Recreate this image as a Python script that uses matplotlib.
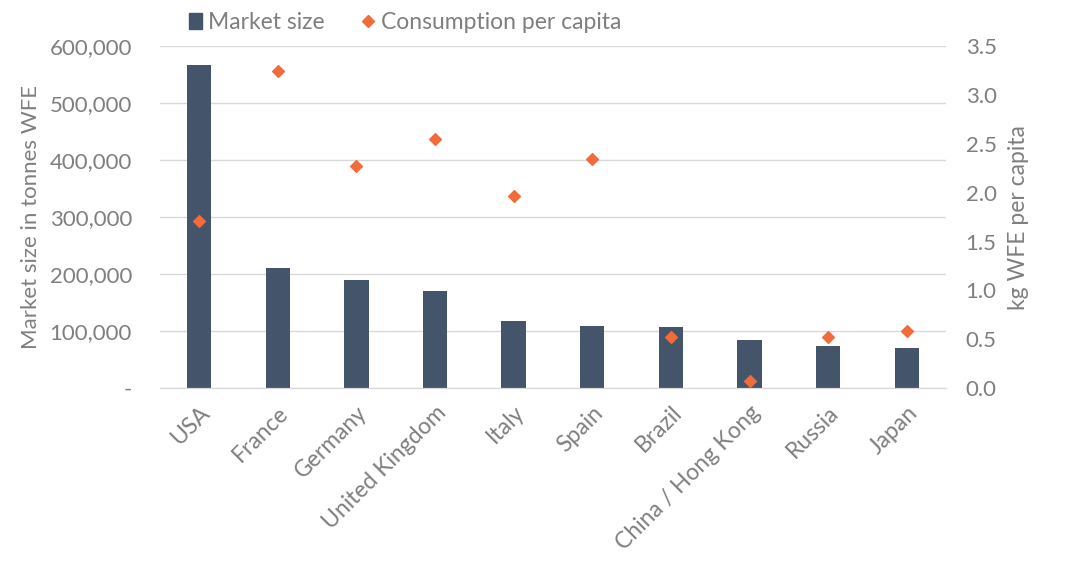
import matplotlib.pyplot as plt
from matplotlib.lines import Line2D
from matplotlib.patches import Patch
import matplotlib.ticker as mticker

# Data
countries = ['USA', 'France', 'Germany', 'United Kingdom', 'Italy', 'Spain',
             'Brazil', 'China / Hong Kong', 'Russia', 'Japan']
market_size = [567000, 210000, 189000, 170000, 118000, 109000, 108000, 84000, 74000, 71000]
per_capita = [1.71, 3.25, 2.27, 2.55, 1.97, 2.35, 0.52, 0.07, 0.52, 0.58]

bar_color = '#44546a'
dot_color = '#f26b3a'
text_color = '#7f7f7f'
grid_color = '#d9d9d9'

plt.rcParams['font.family'] = ['Lato', 'DejaVu Sans']

fig = plt.figure(figsize=(10.8, 5.64), dpi=100)
ax = fig.add_axes([0.148, 0.312, 0.728, 0.606])
ax2 = ax.twinx()

x = range(len(countries))
ax.bar(x, market_size, width=0.31, color=bar_color, zorder=2)
ax2.scatter(x, per_capita, marker='D', s=36, color=dot_color, zorder=3)

ax.set_xlim(-0.5, len(countries) - 0.5)
ax.set_ylim(0, 600000)
ax.set_yticks(range(0, 600001, 100000))
ax.yaxis.set_major_formatter(mticker.FuncFormatter(lambda v, p: '-' if v == 0 else f'{int(v):,}'))
ax2.set_ylim(0, 3.5)
ax2.set_yticks([i * 0.5 for i in range(8)])
ax2.yaxis.set_major_formatter(mticker.FormatStrFormatter('%.1f'))

ax.grid(axis='y', color=grid_color, linewidth=1, zorder=0)
ax.set_axisbelow(True)

for a in (ax, ax2):
    for s in ('top', 'left', 'right'):
        a.spines[s].set_visible(False)
    a.spines['bottom'].set_color(grid_color)
    a.tick_params(length=0, labelsize=16, colors=text_color)

ax.tick_params(axis='y', pad=20)
ax2.tick_params(axis='y', pad=14)
ax.set_xticks(list(x))
ax.set_xticklabels(countries, rotation=45, ha='right', rotation_mode='anchor', fontsize=16.5)
ax.tick_params(axis='x', pad=10)

ax.set_ylabel('Market size in tonnes WFE', fontsize=16, color=text_color, labelpad=6)
ax2.set_ylabel('kg WFE per capita', fontsize=16.5, color=text_color, labelpad=8)

handles = [Patch(color=bar_color, label='Market size'),
           Line2D([], [], marker='D', linestyle='none', color=dot_color, markersize=6,
                  label='Consumption per capita')]
fig.legend(handles=handles, loc='upper center', bbox_to_anchor=(0.375, 1.015), ncol=2,
           frameon=False, fontsize=16.5, labelcolor=text_color, handlelength=0.6,
           handletextpad=0.25, columnspacing=1.6)

fig.savefig('out.png', dpi=100)
